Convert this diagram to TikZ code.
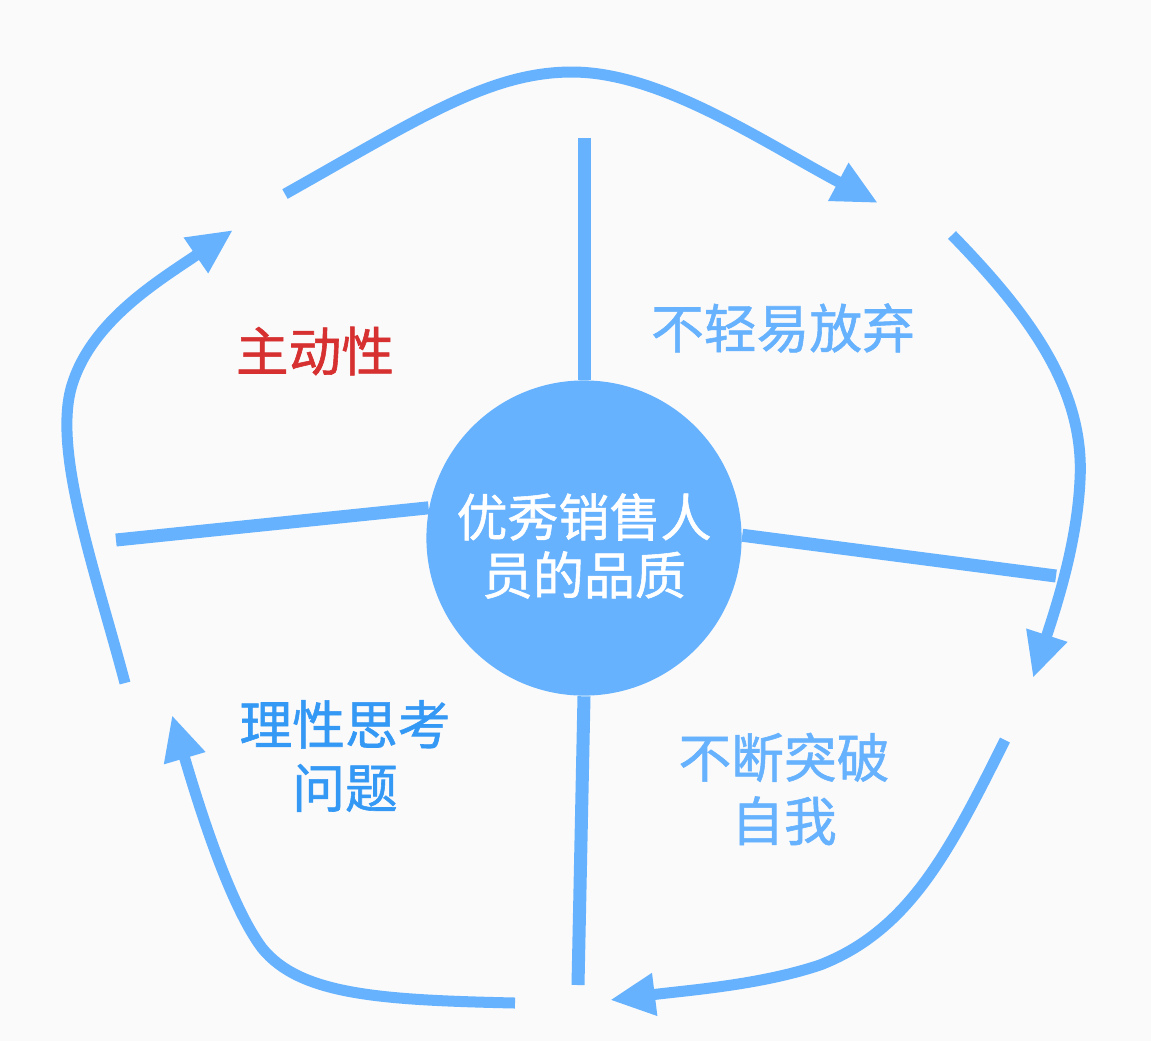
\documentclass[tikz,border=0pt]{standalone}
\usepackage{fontspec}
\setmainfont{Noto Sans CJK SC}[FakeBold=1.1]
\usetikzlibrary{arrows.meta, positioning}
\usepackage{xcolor}
\definecolor{paper}{RGB}{250,250,250}
\definecolor{skyblue}{RGB}{102,178,255}
\definecolor{deepblue}{RGB}{52,152,245}
\definecolor{redtxt}{RGB}{214,48,48}

\begin{document}
\begin{tikzpicture}[x=0.01cm, y=-0.01cm,
    spoke/.style={draw=skyblue, line width=0.13cm},
    ringarrow/.style={draw=skyblue, line width=0.11cm, -{Triangle[length=0.45cm, width=0.4cm]}},
    lbl/.style={font=\fontsize{15}{18}\selectfont, align=center}]
    % Page
    \fill[paper] (0,0) rectangle (1151,1041);
    % Centre circle
    \node[circle, fill=skyblue, minimum size=3.15cm, inner sep=0pt] (core) at (584,538) {};
    \node[text=white, font=\fontsize{14.5}{16.5}\selectfont, align=center] (coretext) at ([yshift=-0.08cm]core.center) {优秀销售人\\员的品质};
    % Spokes
    \coordinate (topend) at (584,138);
    \coordinate (lftend) at (116,540);
    \coordinate (rgtend) at (1056,576);
    \coordinate (botend) at (578,985);
    \draw[spoke] (core.north) -- (topend);
    \draw[spoke] (core.169) -- (lftend);
    \draw[spoke] (core.1) -- (rgtend);
    \draw[spoke] (core.south) -- (botend);
    % Ring of arrows
    \coordinate (a1s) at (285,194);  \coordinate (a1e) at (878,203);
    \coordinate (a2s) at (952,235);  \coordinate (a2e) at (1033,678);
    \coordinate (a3s) at (1005,740); \coordinate (a3e) at (610,1000);
    \coordinate (a4s) at (515,1003); \coordinate (a4e) at (172,715);
    \coordinate (a5s) at (125,683);  \coordinate (a5e) at (233,230);
    \draw[ringarrow] (a1s) .. controls (420,118) and (490,72) .. (572,72) .. controls (660,72) and (760,140) .. (a1e);
    \draw[ringarrow] (a2s) .. controls (1030,315) and (1085,390) .. (1080,480) .. controls (1077,545) and (1055,610) .. (a2e);
    \draw[ringarrow] (a3s) .. controls (950,850) and (910,930) .. (820,965) .. controls (760,985) and (690,990) .. (a3e);
    \draw[ringarrow] (a4s) .. controls (380,1000) and (300,995) .. (262,948) .. controls (230,905) and (200,810) .. (a4e);
    \draw[ringarrow] (a5s) .. controls (95,570) and (52,450) .. (72,385) .. controls (92,320) and (160,280) .. (a5e);
    % Labels
    \node[lbl, text=redtxt] (initiative) at (315,351) {主动性};
    \node[lbl, text=skyblue] (persist) at (783,328) {不轻易放弃};
    \node[lbl, text=deepblue] (reason) at (345,756) {理性思考\\问题};
    \node[lbl, text=skyblue] (breakthru) at (784,789) {不断突破\\自我};
\end{tikzpicture}
\end{document}
